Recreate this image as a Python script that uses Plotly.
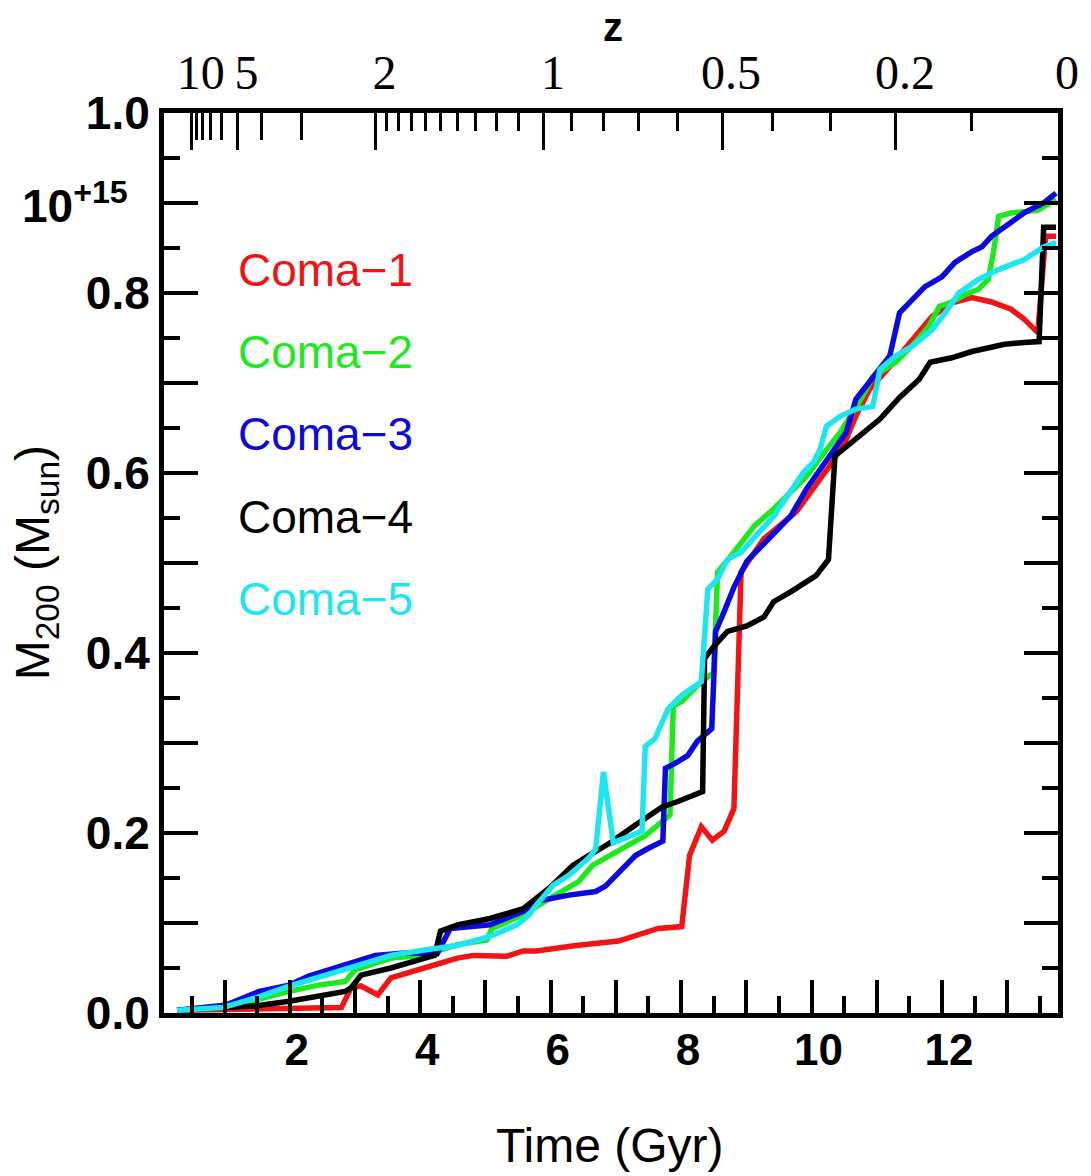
import math
import plotly.graph_objects as go

# ---- data: M200 growth histories (units of 1e15 Msun) vs cosmic time (Gyr) ----
series_names = ["Coma\u22121", "Coma\u22122", "Coma\u22123", "Coma\u22124", "Coma\u22125"]
series_colors = ["#f01414", "#1ee81e", "#0a0ade", "#000000", "#1ee6f0"]

coma1_t = [0.27, 1.50, 2.50, 2.79, 2.94, 3.09, 3.35, 3.55, 4.06, 4.57, 4.82, 5.32, 5.58, 5.78,
           6.39, 7.04, 7.65, 8.01, 8.13, 8.31, 8.48, 8.66, 8.81, 8.92, 9.27, 9.77, 10.28, 10.53,
           10.68, 10.89, 11.20, 11.55, 11.85, 12.15, 12.46, 12.76, 13.06, 13.26, 13.47, 13.59, 13.75]
coma1_m = [0.003, 0.004, 0.005, 0.006, 0.028, 0.030, 0.020, 0.039, 0.050, 0.061, 0.064, 0.063, 0.069, 0.069,
           0.075, 0.080, 0.094, 0.096, 0.175, 0.207, 0.192, 0.202, 0.227, 0.490, 0.527, 0.557, 0.608, 0.637,
           0.663, 0.693, 0.718, 0.748, 0.774, 0.789, 0.795, 0.790, 0.782, 0.771, 0.756, 0.863, 0.863]

coma2_t = [0.27, 1.03, 1.99, 2.44, 2.85, 3.00, 3.55, 4.06, 4.57, 5.02, 5.10, 5.58, 5.98, 6.43, 6.64,
           7.04, 7.45, 7.83, 7.88, 8.01, 8.31, 8.50, 8.56, 8.81, 9.12, 9.42, 9.62, 9.92, 10.23, 10.44,
           10.74, 10.94, 11.29, 11.59, 11.80, 11.96, 12.15, 12.35, 12.56, 12.71, 12.79, 12.87, 13.06,
           13.47, 13.75]
coma2_m = [0.003, 0.006, 0.024, 0.031, 0.035, 0.048, 0.061, 0.064, 0.076, 0.081, 0.094, 0.109, 0.127, 0.146, 0.164,
           0.180, 0.197, 0.220, 0.341, 0.346, 0.368, 0.378, 0.490, 0.512, 0.541, 0.560, 0.574, 0.596, 0.626, 0.645,
           0.680, 0.707, 0.723, 0.745, 0.763, 0.785, 0.790, 0.798, 0.804, 0.815, 0.845, 0.885, 0.889,
           0.892, 0.904]

coma3_t = [0.27, 1.03, 1.53, 1.99, 2.29, 2.79, 3.31, 3.81, 4.26, 4.46, 5.07, 5.58, 5.78, 6.28, 6.69,
           6.84, 7.10, 7.30, 7.50, 7.72, 7.76, 7.90, 8.10, 8.25, 8.47, 8.53, 8.66, 8.81, 9.01, 9.38,
           9.68, 9.92, 10.23, 10.53, 10.68, 10.94, 11.20, 11.35, 11.50, 11.74, 12.00, 12.20, 12.46,
           12.61, 12.76, 12.96, 13.26, 13.56, 13.75]
coma3_m = [0.003, 0.009, 0.024, 0.031, 0.041, 0.052, 0.064, 0.067, 0.066, 0.094, 0.098, 0.113, 0.124, 0.131, 0.135,
           0.141, 0.161, 0.175, 0.183, 0.191, 0.272, 0.277, 0.286, 0.302, 0.316, 0.424, 0.446, 0.473, 0.502, 0.530,
           0.552, 0.582, 0.615, 0.645, 0.682, 0.707, 0.730, 0.778, 0.789, 0.807, 0.818, 0.834, 0.846,
           0.851, 0.863, 0.873, 0.889, 0.900, 0.911]

coma4_t = [0.27, 1.49, 1.99, 2.44, 2.85, 2.94, 3.09, 3.55, 3.96, 4.22, 4.31, 4.57, 5.07, 5.58, 5.98,
           6.34, 6.58, 6.89, 7.30, 7.71, 7.95, 8.25, 8.33, 8.36, 8.51, 8.71, 9.01, 9.27, 9.42, 9.68,
           9.83, 10.07, 10.26, 10.36, 10.48, 10.74, 11.05, 11.35, 11.65, 11.82, 12.15, 12.46, 12.96,
           13.26, 13.49, 13.56, 13.75]
coma4_m = [0.003, 0.008, 0.013, 0.019, 0.024, 0.028, 0.042, 0.050, 0.059, 0.064, 0.091, 0.098, 0.105, 0.116, 0.139,
           0.164, 0.175, 0.188, 0.209, 0.229, 0.235, 0.244, 0.246, 0.394, 0.408, 0.424, 0.430, 0.440, 0.457, 0.468,
           0.475, 0.486, 0.504, 0.619, 0.626, 0.641, 0.660, 0.684, 0.704, 0.723, 0.728, 0.735, 0.743,
           0.745, 0.746, 0.873, 0.873]

coma5_t = [0.27, 0.97, 1.49, 1.99, 2.55, 3.05, 3.55, 4.06, 4.57, 5.07, 5.48, 5.67, 5.78, 6.04, 6.28,
           6.58, 6.69, 6.81, 6.96, 7.40, 7.45, 7.60, 7.80, 8.01, 8.31, 8.41, 8.56, 8.71, 8.92, 9.42,
           9.62, 9.88, 10.03, 10.13, 10.23, 10.44, 10.68, 10.94, 11.05, 11.29, 11.55, 11.85, 12.05,
           12.26, 12.56, 12.87, 13.26, 13.56, 13.75]
coma5_m = [0.003, 0.006, 0.017, 0.030, 0.042, 0.053, 0.064, 0.070, 0.075, 0.085, 0.098, 0.109, 0.120, 0.142, 0.153,
           0.172, 0.182, 0.268, 0.189, 0.202, 0.296, 0.305, 0.338, 0.353, 0.368, 0.471, 0.482, 0.504, 0.512, 0.552,
           0.574, 0.601, 0.612, 0.626, 0.652, 0.663, 0.671, 0.674, 0.715, 0.730, 0.741, 0.759, 0.778,
           0.800, 0.815, 0.826, 0.837, 0.851, 0.856]

series_t = [coma1_t, coma2_t, coma3_t, coma4_t, coma5_t]
series_m = [coma1_m, coma2_m, coma3_m, coma4_m, coma5_m]

# ---- axis ticks ----
time_labeled = [2, 4, 6, 8, 10, 12]
time_unlabeled = [1, 3, 5, 7, 9, 11, 13]
mass_labeled = [0.0, 0.2, 0.4, 0.6, 0.8, 1.0]
mass_unlabeled = [0.1, 0.3, 0.5, 0.7, 0.9]

z_major = [10, 5, 2, 1, 0.5, 0.2, 0]
z_major_labels = ["10", "5", "2", "1", "0.5", "0.2", "0"]
z_medium = [9, 8, 7, 6, 4, 3]
z_minor = [1.9, 1.8, 1.7, 1.6, 1.5, 1.4, 1.3, 1.2, 1.1, 0.9, 0.8, 0.7, 0.6, 0.4, 0.3, 0.1]

T_START, T_END = 0.07, 13.78

# flat LCDM cosmology used for the redshift scale on the top axis
H0 = 68.5          # km/s/Mpc
OMEGA_M = 0.3


def cosmic_age(z):
    ol = 1.0 - OMEGA_M
    hubble_time = 977.8 / H0  # Gyr
    return (2.0 / (3.0 * math.sqrt(ol))) * hubble_time * math.asinh(
        math.sqrt(ol / OMEGA_M) * (1.0 + z) ** -1.5)


def z_to_time(z):
    # time on the plotted axis: present day sits at the right edge
    return T_END - (cosmic_age(0.0) - cosmic_age(z))


W, H = 1091, 1176
L, R, T, B = 164, 23.5, 113, 163

fig = go.Figure()
for name, color, t, m in zip(series_names, series_colors, series_t, series_m):
    fig.add_trace(go.Scatter(x=t, y=m, mode="lines", name=name, showlegend=False,
                             line=dict(color=color, width=5.5)))

# empty traces so the overlay axes are drawn
for xa, ya in (("x2", "y"), ("x3", "y"), ("x4", "y"), ("x", "y2")):
    fig.add_trace(go.Scatter(x=[], y=[], xaxis=xa, yaxis=ya, showlegend=False))

bold_sans = dict(family="Liberation Sans, Arial, sans-serif", color="black", weight="bold")
sans = dict(family="Liberation Sans, Arial, sans-serif", color="black")

fig.update_layout(
    width=W, height=H,
    margin=dict(l=L, r=R, t=T, b=B, pad=0),
    paper_bgcolor="white", plot_bgcolor="white",
    # bottom time axis: labelled even Gyr, half-Gyr minor ticks
    xaxis=dict(
        range=[T_START, T_END], showgrid=False, zeroline=False,
        showline=True, linecolor="black", linewidth=5, mirror=False,
        tickmode="array", tickvals=time_labeled, ticktext=[str(v) for v in time_labeled],
        ticks="inside", ticklen=33, tickwidth=3.5, tickcolor="black",
        tickfont=dict(size=44, **bold_sans), ticklabelshift=7, ticklabelstandoff=-6, tickangle=0,
        minor=dict(tickmode="linear", tick0=0.5, dtick=1, ticks="inside",
                   ticklen=17, tickwidth=3.5, tickcolor="black", showgrid=False),
    ),
    # long unlabelled ticks at odd Gyr
    xaxis4=dict(
        overlaying="x", side="bottom", anchor="y",
        range=[T_START, T_END], showgrid=False, zeroline=False,
        showline=True, linecolor="black", linewidth=5,
        tickmode="array", tickvals=time_unlabeled, showticklabels=False,
        ticks="inside", ticklen=33, tickwidth=3.5, tickcolor="black",
    ),
    # top redshift axis
    xaxis2=dict(
        overlaying="x", side="top", anchor="y",
        range=[T_START, T_END], showgrid=False, zeroline=False,
        showline=True, linecolor="black", linewidth=5,
        tickmode="array", tickvals=[z_to_time(z) for z in z_major], ticktext=z_major_labels,
        ticks="inside", ticklen=37, tickwidth=3, tickcolor="black",
        tickfont=dict(family="Liberation Serif, Times New Roman, serif", size=48, color="black"),
        ticklabelshift=9, tickangle=0,
        minor=dict(tickmode="array", tickvals=[z_to_time(z) for z in z_minor], ticks="inside",
                   ticklen=18, tickwidth=3, tickcolor="black", showgrid=False),
    ),
    xaxis3=dict(
        overlaying="x", side="top", anchor="y",
        range=[T_START, T_END], showgrid=False, zeroline=False, showline=False,
        tickmode="array", tickvals=[z_to_time(z) for z in z_medium], showticklabels=False,
        ticks="inside", ticklen=27, tickwidth=3, tickcolor="black",
    ),
    yaxis=dict(
        range=[0, 1], showgrid=False, zeroline=False,
        showline=True, linecolor="black", linewidth=5, mirror="ticks",
        tickmode="array", tickvals=mass_labeled, ticktext=["%.1f" % v for v in mass_labeled],
        ticks="inside", ticklen=34, tickwidth=3.5, tickcolor="black",
        tickfont=dict(size=46, **bold_sans),
        minor=dict(tickmode="linear", tick0=0.05, dtick=0.1, ticks="inside",
                   ticklen=16, tickwidth=3.5, tickcolor="black", showgrid=False),
    ),
    yaxis2=dict(
        overlaying="y", side="left", anchor="x",
        range=[0, 1], showgrid=False, zeroline=False,
        showline=True, linecolor="black", linewidth=5, mirror="ticks",
        tickmode="array", tickvals=mass_unlabeled, showticklabels=False,
        ticks="inside", ticklen=34, tickwidth=3.5, tickcolor="black",
    ),
)

pw = W - L - R
ph = H - T - B


def px_x(px):
    return (px - L) / pw


def px_y(py):
    return (H - B - py) / ph


annotations = [
    dict(text="Time (Gyr)", xref="paper", yref="paper", x=px_x(615), y=px_y(1145),
         xanchor="center", yanchor="middle", showarrow=False, font=dict(size=48, **sans)),
    dict(text="M<sub>200</sub> (M<sub>sun</sub>)", xref="paper", yref="paper",
         x=px_x(35), y=px_y(563), textangle=-90,
         xanchor="center", yanchor="middle", showarrow=False, font=dict(size=48, **sans)),
    dict(text="z", xref="paper", yref="paper", x=px_x(618), y=px_y(27),
         xanchor="center", yanchor="middle", showarrow=False, font=dict(size=40, **bold_sans)),
    dict(text="10<sup>+15</sup>", xref="paper", yref="y", x=px_x(130), y=0.9,
         xanchor="right", yanchor="middle", showarrow=False, font=dict(size=46, **bold_sans)),
]

# series labels stacked in the upper-left corner
label_top, label_step = 0.826, 0.0915
for i, (name, color) in enumerate(zip(series_names, series_colors)):
    annotations.append(dict(text=name, xref="x", yref="y", x=1.18, y=label_top - i * label_step,
                            xanchor="left", yanchor="middle", showarrow=False,
                            font=dict(family="Liberation Sans, Arial, sans-serif", size=46, color=color)))

fig.update_layout(annotations=annotations)

fig.write_html("out.html")
